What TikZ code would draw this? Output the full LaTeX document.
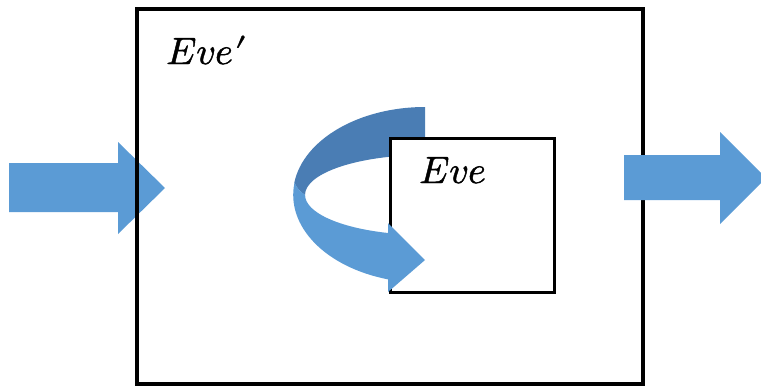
\documentclass[tikz,border=0pt]{standalone}
\usepackage{unicode-math}
\setmathfont{Latin Modern Math}[FakeBold=1.2]
\definecolor{lightblue}{HTML}{5B9BD5}
\definecolor{darkblue}{HTML}{4A7DB4}
\tikzset{
  boxline/.style={draw=black, line width=3.5pt},
  bigarrow/.style={fill=lightblue, draw=none},
  label/.style={inner sep=0pt, anchor=base west, font=\fontsize{38}{44}\selectfont}
}
\begin{document}
\begin{tikzpicture}[x=1pt,y=-1pt]
\useasboundingbox (0,0) rectangle (761,386);
% left input arrow
\fill[bigarrow] (9,163) -- (118,163) -- (118,142) -- (165,188) -- (118,234) -- (118,212) -- (9,212) -- cycle;
% outer box
\node[boxline, minimum width=506pt, minimum height=375pt, inner sep=0pt] (outer) at (390,196.5) {};
% back (dark) part of the circular arrow
\fill[darkblue] (425,107) arc[start angle=-90, end angle=-172, x radius=132, y radius=88]
   to[bend right=15] (305,195) arc[start angle=-180, end angle=-90, x radius=120, y radius=40] -- cycle;
% inner box
\node[boxline, line width=3pt, fill=white, minimum width=164pt, minimum height=154.5pt, inner sep=0pt] (inner) at (472,215.25) {};
% front (light) part of the circular arrow with head
\fill[lightblue] (294.5,182.7) arc[start angle=-172, end angle=-253.7, x radius=132, y radius=88]
   -- (388,292) -- (425,260) -- (388,223) -- (388,233)
   arc[start angle=-252, end angle=-180, x radius=120, y radius=40]
   to[bend left=15] cycle;
% right output arrow
\fill[bigarrow] (624,155) -- (720,155) -- (720,132) -- (766,178) -- (720,224) -- (720,200) -- (624,200) -- cycle;
% labels
\node[label] (evep) at (166,64) {$Eve\mkern1mu\prime$};
\node[label] (eve) at (419,183) {$Eve$};
\end{tikzpicture}
\end{document}
